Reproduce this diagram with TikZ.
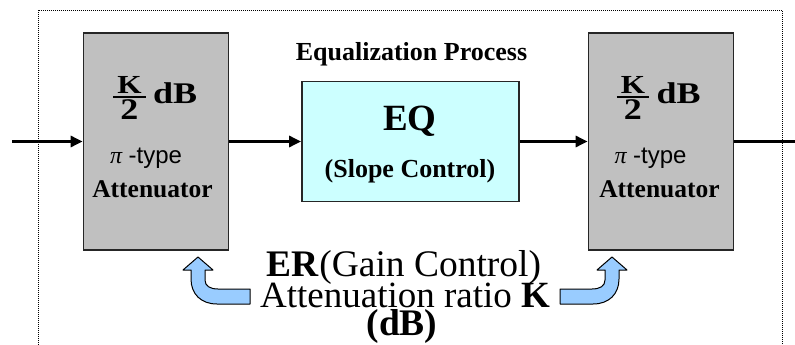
\documentclass[tikz,border=0pt]{standalone}
\usepackage{amsmath}
\usepackage{graphicx}
\usepackage{fontspec}
\setmainfont{Liberation Serif}
\newfontfamily\arialfont{Liberation Sans}
\usetikzlibrary{arrows.meta}

\definecolor{attgray}{HTML}{C0C0C0}
\definecolor{eqcyan}{HTML}{CCFFFF}
\definecolor{arrowblue}{HTML}{99CCFF}

\newcommand{\fsz}[1]{\fontsize{#1}{#1}\selectfont}
% K/2 dB, slightly stretched as in the slide
\newcommand{\halfK}{\scalebox{1.2}[1]{$\genfrac{}{}{2pt}{1}%
  {\makebox[27pt]{\fsz{26}\bfseries K}}{\raisebox{-2pt}{\makebox[27pt]{\fsz{30}\bfseries 2}}}$\,dB}}
% curved feedback arrow, tip at the origin
\newcommand{\turnarrow}{%
  \draw[bluearrow] (0,0) -- (15,13) -- (7,13) -- (7,23)
    .. controls (7,29) and (12,32) .. (20,32) -- (52,32) -- (52,47) -- (19,47)
    .. controls (3,47) and (-7,37) .. (-7,22) -- (-7,13) -- (-15,13) -- cycle;}

\begin{document}
\begin{tikzpicture}[x=1pt,y=-1pt,
    atten/.style={draw=black!85,line width=1.8pt,fill=attgray,minimum width=145pt,minimum height=217pt},
    eqbox/.style={draw=black!85,line width=1.8pt,fill=eqcyan,minimum width=217pt,minimum height=120pt},
    sig/.style={line width=3.5pt,-{Triangle[length=12pt,width=11pt]}},
    bluearrow/.style={draw=black,line width=1pt,line join=round,fill=arrowblue},
    lbl/.style={inner sep=0pt,anchor=base}]
    \useasboundingbox (0,0) rectangle (795,345);
    \draw[line width=0.8pt,dash pattern=on 0.8pt off 1.2pt] (38,345) -- (38,10) -- (782,10) -- (782,345);

    \node[atten] (attL) at (156,141.5) {};
    \node[eqbox] (eq) at (410.5,141.5) {};
    \node[atten] (attR) at (661,141.5) {};
    \coordinate (in) at (12,141.5);
    \coordinate (out) at (795,141.5);

    \draw[sig] (in) -- (attL.west);
    \draw[sig] (attL.east) -- (eq.west);
    \draw[sig] (eq.east) -- (attR.west);
    \draw[line width=3.5pt] (attR.east) -- (out);

    \node[lbl,font=\fsz{26}\bfseries] (title) at (411.5,60) {Equalization Process};
    \node[lbl,font=\fsz{37}\bfseries] (eqname) at (410,130) {EQ};
    \node[lbl,font=\fsz{26}\bfseries] (slope) at (410,177) {(Slope Control)};

    \node[lbl,font=\fsz{30}\bfseries] (kL) at (154.5,103) {\halfK};
    \node[lbl,font=\fsz{24}] (piL) at (146,163) {\textit{π} \arialfont -type};
    \node[lbl,font=\fsz{25.5}\bfseries] (typeL) at (152.5,197) {Attenuator};
    \node[lbl,font=\fsz{30}\bfseries] (kR) at (658,103) {\halfK};
    \node[lbl,font=\fsz{24}] (piR) at (650.5,163) {\textit{π} \arialfont -type};
    \node[lbl,font=\fsz{25.5}\bfseries] (typeR) at (659.5,197) {Attenuator};

    \node[lbl,font=\fsz{37.5}] (er) at (404,276) {\textbf{ER}(Gain Control)};
    \node[lbl,font=\fsz{37}] (ratio) at (405,307) {Attenuation ratio \textbf{K}};
    \node[lbl,font=\fsz{37.5}\bfseries] (unit) at (402,335) {(dB)};

    \begin{scope}[shift={(198,257)}]
        \turnarrow
    \end{scope}
    \begin{scope}[shift={(612,257)},xscale=-1]
        \turnarrow
    \end{scope}
\end{tikzpicture}
\end{document}
